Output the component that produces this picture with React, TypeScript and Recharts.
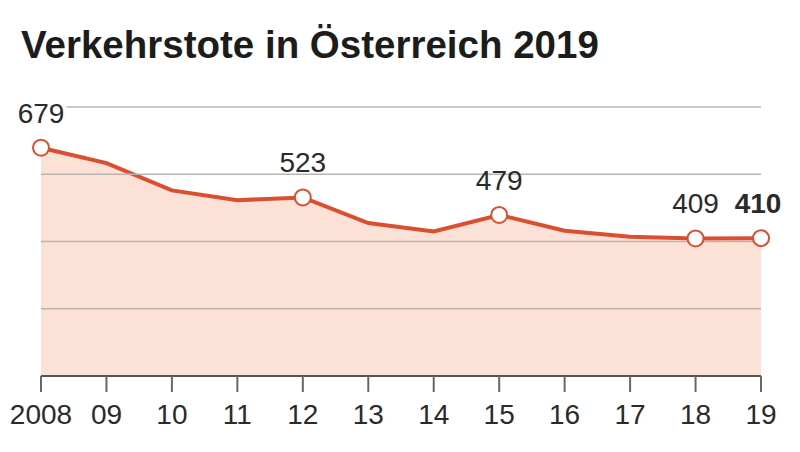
import { AreaChart, Area, XAxis, YAxis, ReferenceLine, LabelList } from "recharts";

const years = ["2008", "09", "10", "11", "12", "13", "14", "15", "16", "17", "18", "19"];
const deaths = [679, 633, 552, 523, 531, 455, 430, 479, 432, 414, 409, 410];
// labels printed above the highlighted points (as shown in the graphic)
const pointLabels = ["679", "", "", "", "523", "", "", "479", "", "", "409", "410"];
const gridValues = [200, 400, 600, 800];

const data = years.map((year, i) => ({ year, value: deaths[i], label: pointLabels[i] }));

const RED = "#d94f2f";
const FILL = "#fce2d6";
const FONT = "'Liberation Sans', Arial, sans-serif";

const Dot = (props: any) => {
  const { cx, cy, index } = props;
  if (!pointLabels[index]) return <g key={`d${index}`} />;
  return <circle key={`d${index}`} cx={cx} cy={cy} r={8} fill="#fff" stroke={RED} strokeWidth={2} />;
};

const PointLabel = (props: any) => {
  const { x, y, index } = props;
  const text = pointLabels[index];
  if (!text) return null;
  const last = index === pointLabels.length - 1;
  return (
    <text
      x={last ? x - 3 : x}
      y={y - 25}
      textAnchor="middle"
      fontSize={28}
      fontWeight={last ? 700 : 400}
      fill="#2a2a2a"
      fontFamily={FONT}
      stroke="#fff"
      strokeWidth={index === 0 ? 8 : 0}
      paintOrder="stroke"
    >
      {text}
    </text>
  );
};

export default function App() {
  return (
    <div style={{ position: "absolute", left: 0, top: 0, width: 800, height: 452, background: "#fff", fontFamily: FONT }}>
      <div style={{ position: "absolute", left: 21, top: 23, fontSize: 38.5, fontWeight: 700, color: "#1c1c1c", whiteSpace: "nowrap" }}>
        Verkehrstote in Österreich 2019
      </div>
      <AreaChart width={800} height={452} data={data} margin={{ top: 107, right: 39, bottom: 16, left: 41 }}>
        <XAxis
          dataKey="year"
          height={60}
          axisLine={{ stroke: "#555", strokeWidth: 2 }}
          tickLine={{ stroke: "#666", strokeWidth: 2 }}
          tickSize={16}
          tickMargin={12}
          tick={{ fontSize: 28, fill: "#2a2a2a", fontFamily: FONT }}
          interval={0}
        />
        <YAxis hide domain={[0, 800]} />
        <Area
          type="linear"
          dataKey="value"
          stroke={RED}
          strokeWidth={4}
          fill={FILL}
          fillOpacity={1}
          dot={Dot}
          activeDot={false}
          isAnimationActive={false}
        >
          <LabelList dataKey="label" content={PointLabel} />
        </Area>
        {gridValues.map((v) => (
          <ReferenceLine key={v} y={v} stroke="#b9b4b0" strokeWidth={1.5} />
        ))}
      </AreaChart>
    </div>
  );
}
